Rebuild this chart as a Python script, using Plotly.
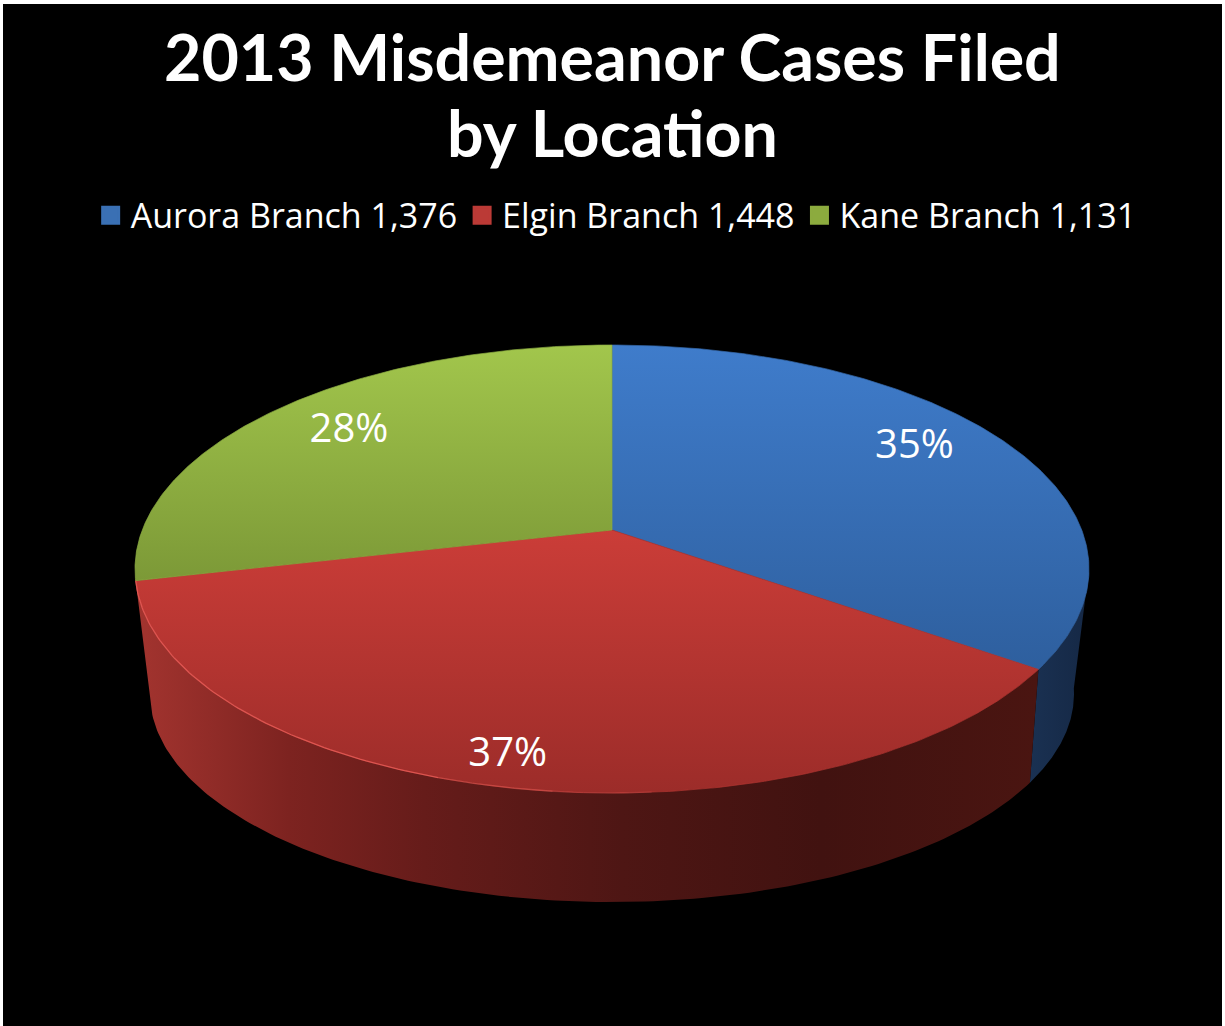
import numpy as np
import plotly.graph_objects as go

categories = ["Aurora Branch", "Elgin Branch", "Kane Branch"]
cases = [1376, 1448, 1131]
percent_labels = ["35%", "37%", "28%"]
title_lines = ["2013 Misdemeanor Cases Filed", "by Location"]

top_gradient = [["#3f7ccb", "#2e5f9e"], ["#cb3d38", "#9c2c29"], ["#a2c64c", "#7c9937"]]
edge_colors = ["#3568ab", "#b33531", "#8dae42"]
legend_colors = ["#3a70b4", "#bb3a36", "#8cab3e"]
side_gradient = [
    [[0, "#1a3152"], [1, "#152845"]],
    [[0, "#a3342f"], [0.17, "#7d2320"], [0.32, "#661c1a"], [0.54, "#4e1614"], [0.76, "#411210"], [1, "#4a1511"]],
]
label_radius = [0.80, 0.90, 0.78]
label_angle_shift = [-3.1, 0.9, 0.3]

TITLE_FONT = "Lato"
TEXT_FONT = "Open Sans"
CX = 612
TOP = dict(cy=569, rx=477, ry=224, a=0.174)
BOT = dict(cy=694, rx=462, ry=208, a=0.20)


def project(theta_deg, r, e):
    """Perspective view of a disc: clockwise angle from 12 o'clock, radius r."""
    t = np.radians(theta_deg)
    u, v = r * np.sin(t), r * np.cos(t)
    d = 1 + e["a"] * v
    X = u * np.sqrt(1 - e["a"] ** 2) / d
    Y = (v + e["a"]) / d
    return CX + e["rx"] * X, e["cy"] - e["ry"] * Y


total = sum(cases)
edges = np.concatenate([[0], np.cumsum(cases) / total * 360])

fig = go.Figure()

# side walls
side_ranges = [(100, edges[1]), (edges[1], edges[2])]
for (a, b), scale in zip(side_ranges, side_gradient):
    th = np.linspace(a, b, 160)
    x1, y1 = project(th, 1, TOP)
    x2, y2 = project(th[::-1], 1, BOT)
    fig.add_trace(go.Scatter(
        x=np.concatenate([x1, x2]), y=np.concatenate([y1, y2]), mode="lines",
        fill="toself", line=dict(width=0), showlegend=False, hoverinfo="skip",
        fillgradient=dict(type="horizontal", colorscale=scale)))

# top faces
for i in range(3):
    th = np.linspace(edges[i], edges[i + 1], 200)
    x, y = project(th, 1, TOP)
    ax, ay = project(0, 0, TOP)
    fig.add_trace(go.Scatter(
        x=np.concatenate([[ax], x, [ax]]), y=np.concatenate([[ay], y, [ay]]), mode="lines",
        fill="toself", line=dict(width=0.7, color=edge_colors[i]), showlegend=False,
        hovertemplate=categories[i] + ": %{customdata:,}<extra></extra>",
        customdata=[cases[i]] * 202,
        fillgradient=dict(type="vertical", colorscale=[[0, top_gradient[i][1]], [1, top_gradient[i][0]]])))

# rim highlight on the front-left of the red slice, fading towards the front
for a, b, alpha in [(176, 186, 0.25), (186, 198, 0.5), (198, edges[2], 0.8)]:
    th = np.linspace(a, b, 80)
    x, y = project(th, 1, TOP)
    fig.add_trace(go.Scatter(x=x, y=y, mode="lines", line=dict(color=f"rgba(238,95,90,{alpha})", width=1.3),
                             showlegend=False, hoverinfo="skip"))

# percentage labels
mid = (edges[:-1] + edges[1:]) / 2 + np.array(label_angle_shift)
lx, ly = zip(*[project(m, r, TOP) for m, r in zip(mid, label_radius)])
fig.add_trace(go.Scatter(
    x=lx, y=ly, mode="text", text=percent_labels,
    textfont=dict(family=TEXT_FONT, size=40, color="white"), showlegend=False, hoverinfo="skip"))

# legend entries
for c, v, col in zip(categories, cases, legend_colors):
    fig.add_trace(go.Scatter(x=[None], y=[None], mode="markers", name=f"{c} {v:,}",
                             marker=dict(symbol="square", size=16, color=col, line=dict(color=col, width=3))))

fig.update_layout(
    width=1225, height=1026, margin=dict(l=3, r=3, t=4, b=0),
    paper_bgcolor="white", plot_bgcolor="black",
    xaxis=dict(range=[3, 1222], visible=False, fixedrange=True),
    yaxis=dict(range=[1026, 4], visible=False, fixedrange=True),
    annotations=[
        dict(text=title_lines[0], x=612, y=56, xref="x", yref="y", showarrow=False,
             font=dict(family=TITLE_FONT, size=64.5, color="white", weight="bold")),
        dict(text=title_lines[1], x=612, y=132, xref="x", yref="y", showarrow=False,
             font=dict(family=TITLE_FONT, size=64.5, color="white", weight="bold")),
    ],
    legend=dict(orientation="h", x=0.503, xanchor="center", y=0.793, yanchor="middle",
                yref="paper", font=dict(family=TEXT_FONT, size=34, color="white"),
                bgcolor="rgba(0,0,0,0)", itemclick=False, itemdoubleclick=False),
    showlegend=True,
)

fig.write_html("out.html", config={"displayModeBar": False},
               post_script="document.body.style.margin='0';document.body.style.overflow='hidden';")
